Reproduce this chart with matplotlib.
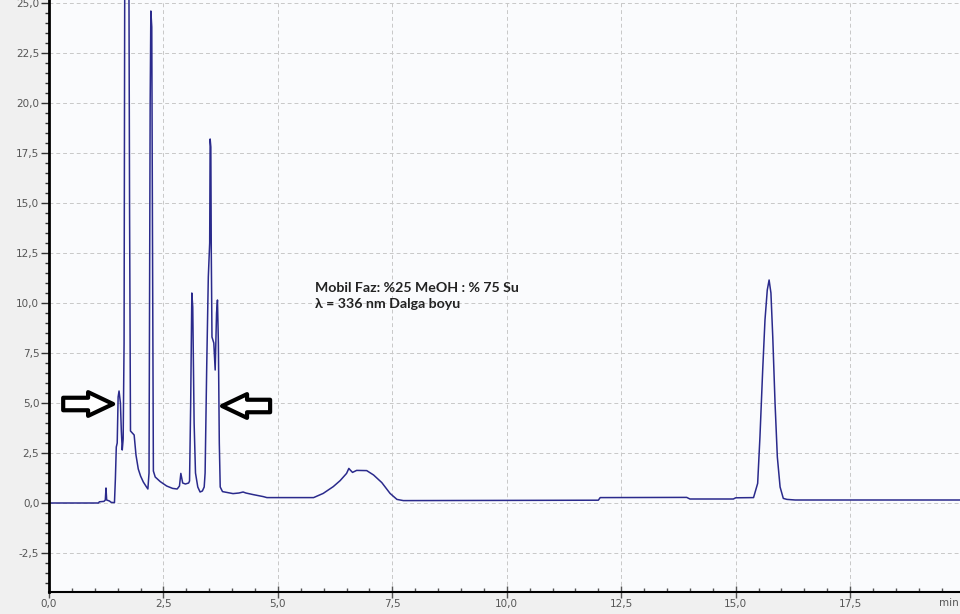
import matplotlib
matplotlib.use("Agg")
import matplotlib.pyplot as plt
from matplotlib.patches import FancyArrowPatch
from matplotlib.ticker import MultipleLocator, FuncFormatter

# chromatogram trace (time in min, signal)
time = [0.0, 1.08, 1.10, 1.20, 1.23, 1.245, 1.26, 1.32, 1.36, 1.43,
        1.45, 1.47, 1.49, 1.51, 1.53, 1.56, 1.58, 1.60, 1.62, 1.64,
        1.655, 1.70, 1.745, 1.76, 1.78, 1.86, 1.90, 1.95, 2.00, 2.06,
        2.13, 2.16, 2.185, 2.21, 2.225, 2.245, 2.26, 2.28, 2.32, 2.43,
        2.57, 2.70, 2.80, 2.85, 2.88, 2.92, 2.98, 3.05, 3.07, 3.095,
        3.12, 3.14, 3.17, 3.20, 3.25, 3.30, 3.35, 3.39, 3.41, 3.445,
        3.48, 3.51, 3.52, 3.535, 3.545, 3.56, 3.60, 3.63, 3.66, 3.68,
        3.70, 3.72, 3.74, 3.79, 4.02, 4.15, 4.24, 4.30, 4.46, 4.68,
        4.76, 5.78, 5.99, 6.21, 6.36, 6.50, 6.55, 6.58, 6.63, 6.72,
        6.94, 7.09, 7.27, 7.45, 7.60, 7.74, 12.0, 12.04, 13.93, 14.0,
        14.95, 15.0, 15.39, 15.48, 15.53, 15.59, 15.64, 15.69, 15.73, 15.77,
        15.81, 15.86, 15.91, 15.97, 16.04, 16.12, 16.3, 19.9]
signal = [0.0, 0.0, 0.06, 0.08, 0.15, 0.75, 0.15, 0.1, 0.03, 0.02,
          1.2, 2.8, 3.0, 5.3, 5.6, 5.0, 3.6, 2.65, 3.2, 8.0,
          27.0, 34.0, 27.0, 14.6, 3.6, 3.4, 2.4, 1.7, 1.35, 1.05,
          0.8, 0.7, 1.5, 20.0, 24.6, 23.8, 13.7, 1.6, 1.3, 1.07,
          0.85, 0.73, 0.7, 0.85, 1.48, 1.0, 0.95, 1.0, 1.1, 5.0,
          10.5, 9.8, 4.0, 1.5, 0.8, 0.55, 0.6, 0.8, 1.5, 6.8,
          11.3, 13.0, 18.2, 17.8, 12.5, 8.3, 8.0, 6.65, 9.5, 10.15,
          8.0, 3.0, 0.8, 0.57, 0.47, 0.5, 0.55, 0.5, 0.42, 0.32,
          0.27, 0.27, 0.48, 0.82, 1.12, 1.48, 1.73, 1.65, 1.53, 1.63,
          1.62, 1.4, 1.02, 0.48, 0.18, 0.12, 0.14, 0.27, 0.28, 0.2,
          0.2, 0.26, 0.27, 0.98, 3.3, 6.65, 9.15, 10.65, 11.15, 10.5,
          8.3, 4.98, 2.3, 0.8, 0.23, 0.18, 0.15, 0.15]

note_lines = ["Mobil Faz: %25 MeOH : % 75 Su", "λ = 336 nm Dalga boyu"]

fig = plt.figure(figsize=(9.6, 6.14), dpi=100, facecolor="#f0f0f0")
ax = fig.add_axes([49 / 960, 22 / 614, 1 - 49 / 960, 1 - 22 / 614])
ax.set_facecolor("#fafbfd")

ax.plot(time, signal, color="#2a2a8c", lw=1.1)

ax.set_xlim(0, 19.9)
ax.set_ylim(-4.45, 25.15)

ax.xaxis.set_major_locator(MultipleLocator(2.5))
ax.xaxis.set_minor_locator(MultipleLocator(0.5))
ax.yaxis.set_major_locator(MultipleLocator(2.5))
ax.yaxis.set_minor_locator(MultipleLocator(0.5))
comma = FuncFormatter(lambda v, p: f"{v:.1f}".replace(".", ","))
ax.xaxis.set_major_formatter(comma)
ax.yaxis.set_major_formatter(comma)

ax.tick_params(axis="y", which="major", length=6, width=1, color="#333333",
               labelsize=7.5, labelcolor="#555555", pad=1)
ax.tick_params(axis="y", which="minor", length=3, width=1, color="#333333")
ax.tick_params(axis="x", which="major", direction="inout", length=8, width=1,
               color="#555555", labelsize=7.5, labelcolor="#555555", pad=1)
ax.tick_params(axis="x", which="minor", direction="in", length=3, width=1,
               color="#555555")

ax.grid(True, which="major", color="#c8c8c8", ls=(0, (4, 3)), lw=0.7)
ax.set_axisbelow(True)
for s in ["top", "right"]:
    ax.spines[s].set_visible(False)
ax.spines["left"].set_linewidth(2)
ax.spines["bottom"].set_linewidth(1.5)

fig.text(959 / 960, 11 / 614, "min", fontsize=7.5, color="#555555",
         ha="right", va="center")

ax.text(5.8, 10.35, note_lines[0] + "\n" + note_lines[1], family="Lato",
        fontweight="bold", fontsize=10.2, color="#222222", va="center",
        linespacing=1.35)

# outlined block arrows pointing at the peaks
for tail, head, yv in [(0.31, 1.40, 4.95), (4.83, 3.78, 4.85)]:
    arr = FancyArrowPatch((tail, yv), (head, yv),
                          arrowstyle="simple,head_length=1.0,head_width=0.95,tail_width=0.5",
                          mutation_scale=18, fc="white", ec="black", lw=3,
                          shrinkA=0, shrinkB=0, zorder=5)
    ax.add_patch(arr)

fig.savefig("out.png", dpi=100, facecolor=fig.get_facecolor())
